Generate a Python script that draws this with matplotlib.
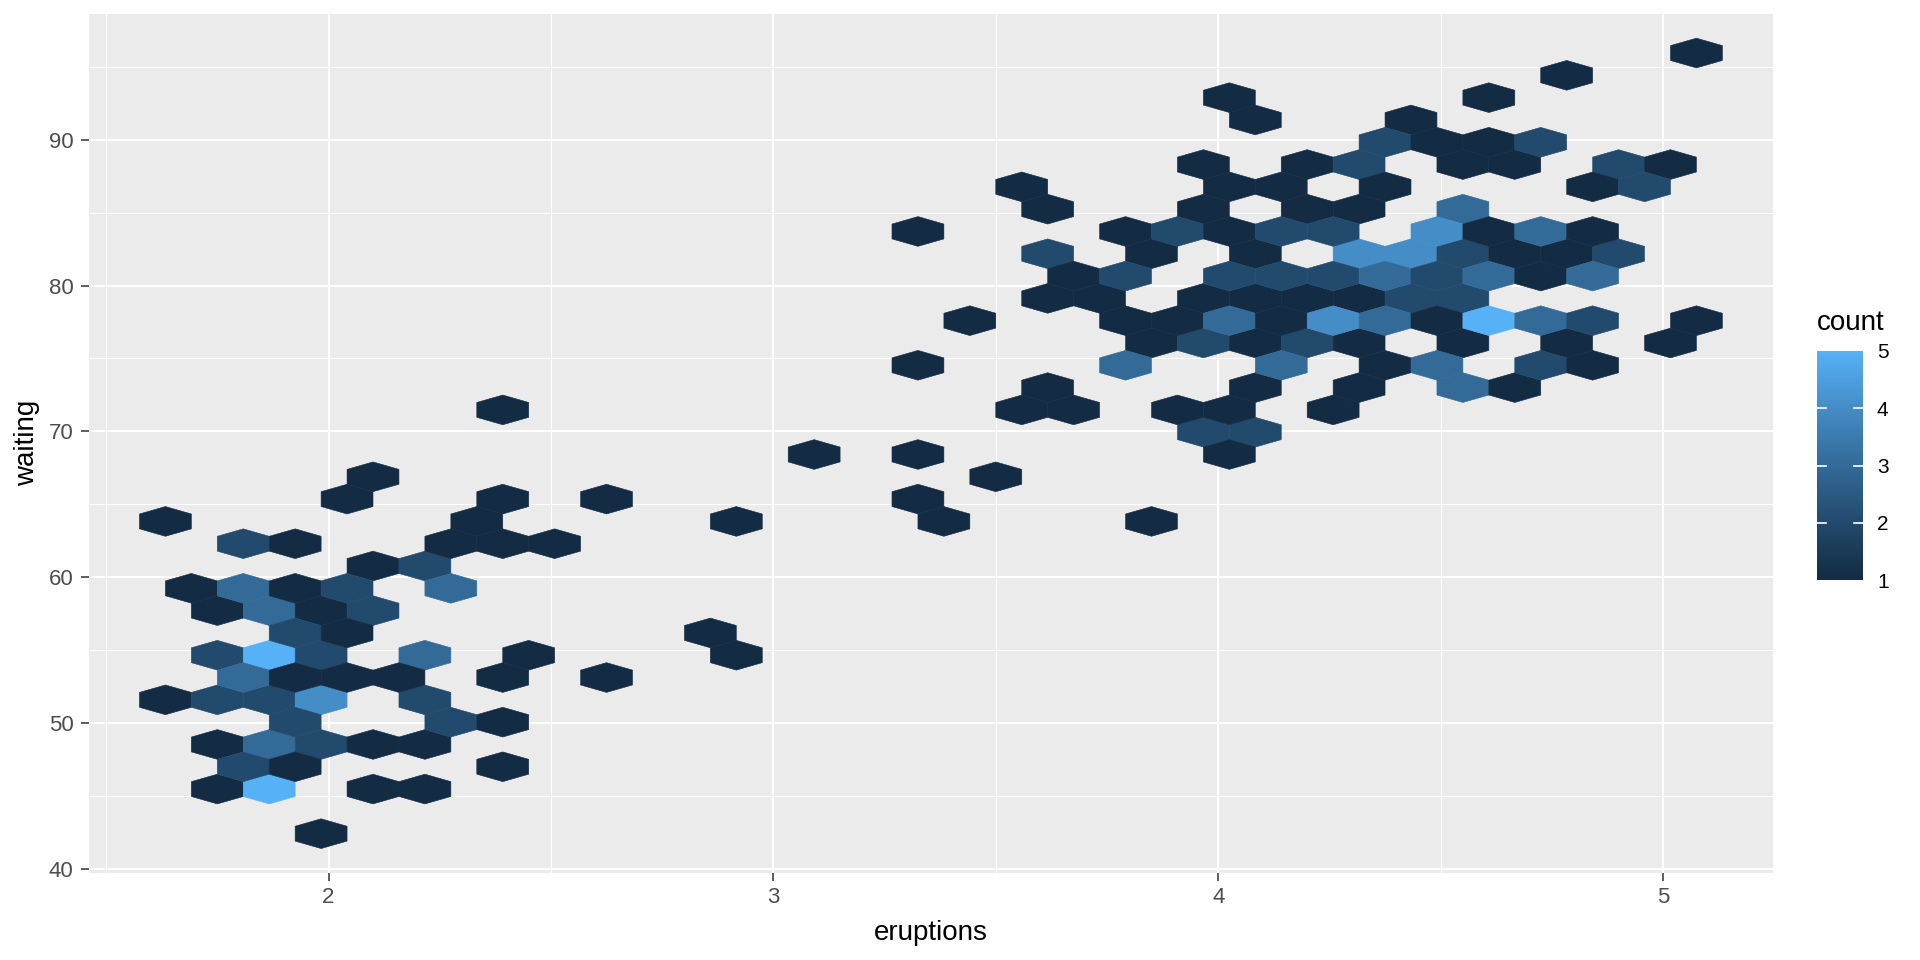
import numpy as np
import matplotlib
matplotlib.use("Agg")
import matplotlib.pyplot as plt

# ---------------- data (hex cells) ----------------
# one entry per hex row: waiting value of the row, eruption values of the
# occupied cells in that row and their counts
waiting_rows = [42.40, 45.46, 46.99, 48.52, 50.05, 51.58, 53.11, 54.64, 56.17,
                57.70, 59.23, 60.76, 62.29, 63.82, 65.35, 66.88, 68.41, 69.94,
                71.47, 73.00, 74.53, 76.06, 77.59, 79.12, 80.65, 82.18, 83.71,
                85.24, 86.77, 88.30, 89.83, 91.36, 92.89, 94.42, 95.95]

eruptions_by_row = [
    [1.983],
    [1.750, 1.867, 2.100, 2.217],
    [1.808, 1.925, 2.392],
    [1.750, 1.867, 1.983, 2.100, 2.217],
    [1.925, 2.275, 2.392],
    [1.633, 1.750, 1.867, 1.983, 2.217],
    [1.808, 1.925, 2.042, 2.158, 2.392, 2.625],
    [1.750, 1.867, 1.983, 2.217, 2.450, 2.917],
    [1.925, 2.042, 2.858],
    [1.750, 1.867, 1.983, 2.100],
    [1.692, 1.808, 1.925, 2.042, 2.275],
    [2.100, 2.217],
    [1.808, 1.925, 2.275, 2.392, 2.508],
    [1.633, 2.333, 2.917, 3.383, 3.850],
    [2.042, 2.392, 2.625, 3.325],
    [2.100, 3.500],
    [3.092, 3.325, 4.025],
    [3.967, 4.083],
    [2.392, 3.558, 3.675, 3.908, 4.025, 4.258],
    [3.617, 4.083, 4.317, 4.550, 4.667],
    [3.325, 3.792, 4.142, 4.375, 4.492, 4.725, 4.842],
    [3.850, 3.967, 4.083, 4.200, 4.317, 4.550, 4.783, 5.017],
    [3.442, 3.792, 3.908, 4.025, 4.142, 4.258, 4.375, 4.492, 4.608, 4.725, 4.842, 5.075],
    [3.617, 3.733, 3.967, 4.083, 4.200, 4.317, 4.433, 4.550],
    [3.675, 3.792, 4.025, 4.142, 4.258, 4.375, 4.492, 4.608, 4.725, 4.842],
    [3.617, 3.850, 4.083, 4.317, 4.433, 4.550, 4.667, 4.783, 4.900],
    [3.325, 3.792, 3.908, 4.025, 4.142, 4.258, 4.492, 4.608, 4.725, 4.842],
    [3.617, 3.967, 4.200, 4.317, 4.550],
    [3.558, 4.025, 4.142, 4.375, 4.842, 4.958],
    [3.967, 4.200, 4.317, 4.550, 4.667, 4.900, 5.017],
    [4.375, 4.492, 4.608, 4.725],
    [4.083, 4.433],
    [4.025, 4.608],
    [4.783],
    [5.075],
]

counts_by_row = [
    [1],
    [1, 5, 1, 1],
    [2, 1, 1],
    [1, 3, 2, 1, 1],
    [2, 2, 1],
    [1, 2, 2, 4, 2],
    [3, 1, 1, 1, 1, 1],
    [2, 5, 2, 3, 1, 1],
    [2, 1, 1],
    [1, 3, 1, 2],
    [1, 3, 1, 2, 3],
    [1, 2],
    [2, 1, 1, 1, 1],
    [1, 1, 1, 1, 1],
    [1, 1, 1, 1],
    [1, 1],
    [1, 1, 1],
    [2, 2],
    [1, 1, 1, 1, 1, 1],
    [1, 1, 1, 3, 1],
    [1, 3, 3, 1, 3, 2, 1],
    [1, 2, 1, 2, 1, 1, 1, 1],
    [1, 1, 1, 3, 1, 4, 3, 1, 5, 3, 2, 1],
    [1, 1, 1, 1, 1, 1, 2, 2],
    [1, 2, 2, 2, 2, 3, 2, 3, 1, 3],
    [2, 1, 1, 4, 4, 2, 1, 1, 2],
    [1, 1, 2, 1, 2, 2, 4, 1, 3, 1],
    [1, 1, 1, 1, 3],
    [1, 1, 1, 1, 1, 2],
    [1, 1, 2, 1, 1, 2, 1],
    [2, 1, 1, 2],
    [1, 1],
    [1, 1],
    [1],
    [1],
]

x_ticks = [2, 3, 4, 5]
y_ticks = [40, 50, 60, 70, 80, 90]
legend_ticks = [1, 2, 3, 4, 5]
x_title = "eruptions"
y_title = "waiting"
legend_title = "count"

# ---------------- flatten ----------------
eruptions = np.array([e for row in eruptions_by_row for e in row])
waiting = np.array([w for w, row in zip(waiting_rows, eruptions_by_row) for _ in row])
counts = np.array([c for row in counts_by_row for c in row], dtype=float)

# ---------------- ggplot-like gradient in CIELAB ----------------
_M = np.array([[0.4124564, 0.3575761, 0.1804375],
               [0.2126729, 0.7151522, 0.0721750],
               [0.0193339, 0.1191920, 0.9503041]])
_WHITE = np.array([0.95047, 1.0, 1.08883])


def _srgb_to_lab(hexcol):
    rgb = np.array([int(hexcol[i:i + 2], 16) / 255 for i in (1, 3, 5)])
    lin = np.where(rgb <= 0.04045, rgb / 12.92, ((rgb + 0.055) / 1.055) ** 2.4)
    xyz = _M @ lin / _WHITE
    eps = 216 / 24389
    kap = 24389 / 27
    f = np.where(xyz > eps, np.cbrt(xyz), (kap * xyz + 16) / 116)
    return np.array([116 * f[1] - 16, 500 * (f[0] - f[1]), 200 * (f[1] - f[2])])


def _lab_to_srgb(lab):
    L, a, b = lab
    fy = (L + 16) / 116
    fx = fy + a / 500
    fz = fy - b / 200
    eps = 216 / 24389
    kap = 24389 / 27
    f = np.array([fx, fy, fz])
    xyz = np.where(f ** 3 > eps, f ** 3, (116 * f - 16) / kap)
    xyz[1] = fy ** 3 if L > kap * eps else L / kap
    lin = np.linalg.inv(_M) @ (xyz * _WHITE)
    lin = np.clip(lin, 0, 1)
    rgb = np.where(lin <= 0.0031308, 12.92 * lin, 1.055 * lin ** (1 / 2.4) - 0.055)
    return np.clip(rgb, 0, 1)


low, high = "#132B43", "#56B1F7"
lab_lo, lab_hi = _srgb_to_lab(low), _srgb_to_lab(high)
cm_colors = [_lab_to_srgb(lab_lo + t * (lab_hi - lab_lo)) for t in np.linspace(0, 1, 256)]
cmap = matplotlib.colors.ListedColormap(cm_colors)

# ---------------- figure ----------------
plt.rcParams['font.family'] = ['Liberation Sans', 'DejaVu Sans']
fig = plt.figure(figsize=(19.2, 9.6), dpi=100)
ax = fig.add_axes([88.7 / 1920, 1 - 872.7 / 960, (1773 - 88.7) / 1920, (872.7 - 14) / 960])
ax.set_facecolor("#EBEBEB")

# hex grid as in ggplot2 stat_bin_hex (bins = 30)
bw_x = 3.5 / 30
bw_y = 53 / 30
x0 = np.floor(1.6 / bw_x) * bw_x
y0 = np.floor(43 / bw_y) * bw_y
nx, ny = 31, 18
sy = bw_y * np.sqrt(3)
hb = ax.hexbin(eruptions, waiting, C=counts, reduce_C_function=np.sum,
               gridsize=(nx, ny), extent=(x0, x0 + nx * bw_x, y0, y0 + ny * sy),
               cmap=cmap, vmin=1, vmax=5, edgecolors='face', linewidths=0.4,
               zorder=3)

ax.set_xticks(x_ticks)
ax.set_yticks(y_ticks)
ax.set_xticks([t - 0.5 for t in x_ticks], minor=True)
ax.set_yticks([t + 5 for t in y_ticks], minor=True)

# limits: data range expanded by 5 % on each side (set after the ticks)
xr = eruptions.max() - eruptions.min()
yr = waiting.max() - waiting.min()
ax.set_xlim(eruptions.min() - 0.05 * xr, eruptions.max() + 0.05 * xr)
ax.set_ylim(waiting.min() - 0.05 * yr, waiting.max() + 0.05 * yr)

ax.grid(which='major', color='white', linewidth=1.4, zorder=1)
ax.grid(which='minor', color='white', linewidth=0.75, zorder=1)
ax.set_axisbelow(True)
for s in ax.spines.values():
    s.set_visible(False)
ax.tick_params(which='major', length=6, width=1.1, color='#333333',
               labelsize=16, labelcolor='#4D4D4D')
ax.tick_params(axis='x', pad=4)
ax.tick_params(axis='y', pad=5)
ax.tick_params(which='minor', length=0)
ax.set_xlabel(x_title, fontsize=20, color='black', labelpad=9)
ax.set_ylabel(y_title, fontsize=20, color='black', labelpad=6)

# ---------------- legend (colour bar) ----------------
cax = fig.add_axes([1817 / 1920, 1 - 580 / 960, 46 / 1920, 229 / 960])
cbar = fig.colorbar(hb, cax=cax, ticks=legend_ticks)
cbar.outline.set_visible(False)
cbar.minorticks_off()
cax.tick_params(length=0, pad=10, labelsize=15, labelcolor='black')
for v in legend_ticks[1:-1]:
    cax.plot([0, 0.2], [v, v], color='white', lw=1.2, transform=cax.get_yaxis_transform())
    cax.plot([0.8, 1], [v, v], color='white', lw=1.2, transform=cax.get_yaxis_transform())
fig.text(1817 / 1920, 1 - 323 / 960, legend_title, fontsize=20, ha='left', va='center')

fig.savefig("out.png", dpi=100)
